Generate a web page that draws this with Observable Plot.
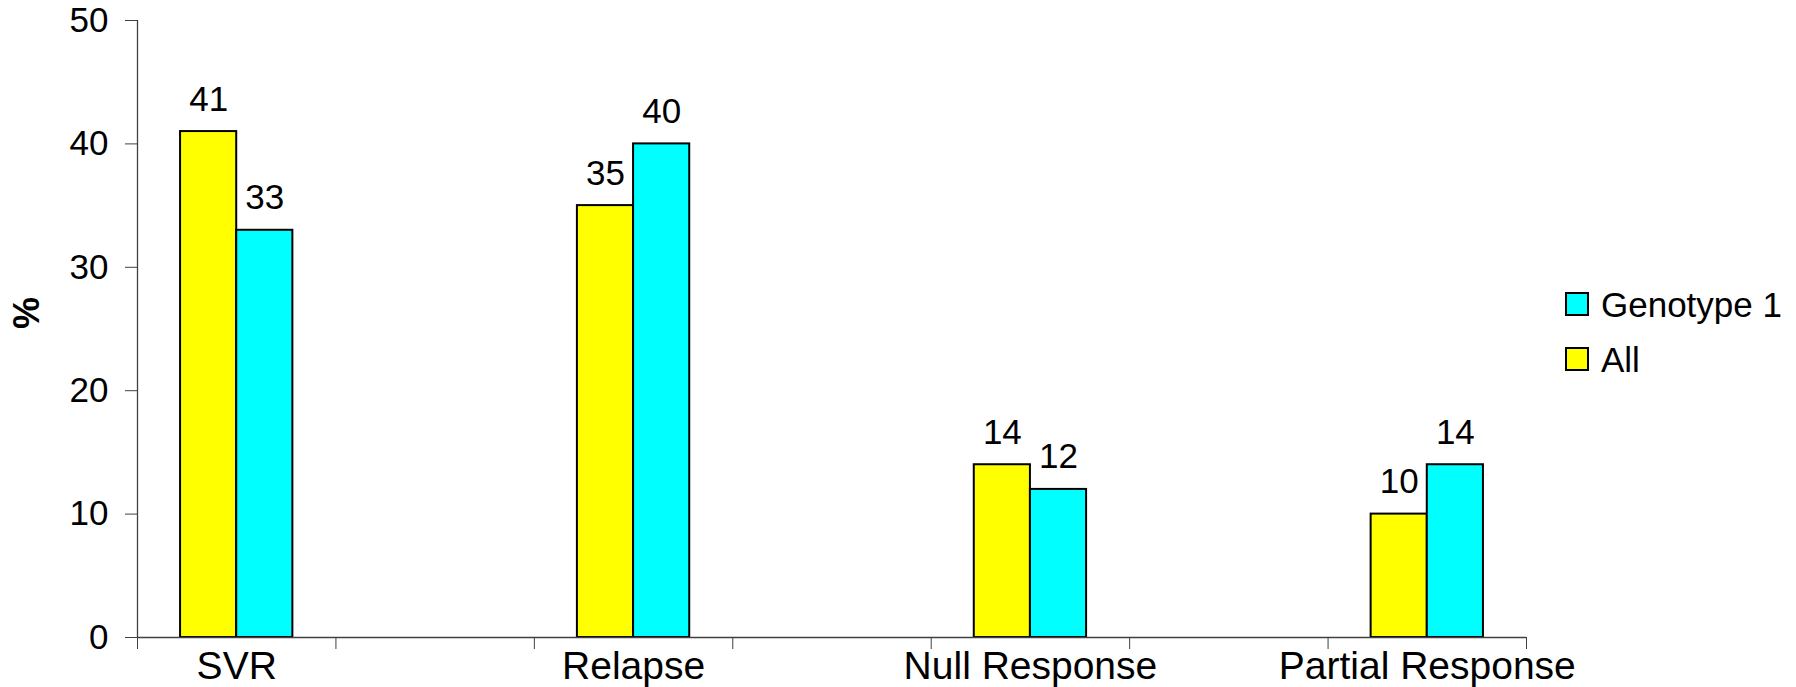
<!DOCTYPE html>
<html>
<head>
<meta charset="utf-8">
<script src="https://cdn.jsdelivr.net/npm/d3@7"></script>
<script src="https://cdn.jsdelivr.net/npm/@observablehq/plot@0.6"></script>
<style>
  html, body { margin: 0; padding: 0; background: #fff; }
  #chart { position: relative; width: 1796px; height: 687px; font-family: "Liberation Sans", Arial, sans-serif; }
  #chart svg { display: block; }
  .legend { position: absolute; left: 1565px; top: 293px; }
  .legend .item { display: flex; align-items: center; height: 22px; margin-bottom: 33px; }
  .legend .swatch { width: 20px; height: 20px; border: 2px solid #000; box-sizing: content-box; }
  .legend .label { margin-left: 12px; font-size: 35px; line-height: 1; color: #000; white-space: nowrap; }
</style>
</head>
<body>
<div id="chart"></div>
<script>
// Response outcomes (%), by patient group
const categories = ["SVR", "Relapse", "Null Response", "Partial Response"];
const allValues = [41, 35, 14, 10];
const genotypeValues = [33, 40, 12, 14];
const seriesNames = ["All", "Genotype 1"];
const seriesColors = ["#ffff00", "#00ffff"];
const yTicks = [0, 10, 20, 30, 40, 50];

// Each category sits in every other slot of a 7-slot axis, with empty slots between.
const slotCount = categories.length * 2 - 1;
const slotOf = (i) => i * 2;
const barWidth = 0.283;

const bars = [];
categories.forEach((c, i) => {
  const center = slotOf(i) + 0.5;
  bars.push({category: c, series: seriesNames[0], value: allValues[i], x1: center - barWidth, x2: center});
  bars.push({category: c, series: seriesNames[1], value: genotypeValues[i], x1: center, x2: center + barWidth});
});

const axisStroke = "#404040";

const chart = Plot.plot({
  width: 1796,
  height: 687,
  marginLeft: 137,
  marginRight: 270,
  marginTop: 20,
  marginBottom: 50,
  style: {fontFamily: "'Liberation Sans', Arial, sans-serif", background: "white", overflow: "visible"},
  x: {domain: [0, slotCount], axis: null},
  y: {domain: [0, 50], axis: null},
  color: {domain: seriesNames, range: seriesColors},
  marks: [
    Plot.axisY({ticks: yTicks, tickSize: 12, tickPadding: 17, fontSize: 35, label: null, stroke: axisStroke, fill: "black"}),
    Plot.ruleX([0], {stroke: axisStroke, strokeWidth: 1.3}),
    Plot.axisX({ticks: d3.range(0, slotCount + 1), tickSize: 12, tickFormat: () => "", label: null, stroke: axisStroke}),
    Plot.axisX({
      ticks: categories.map((c, i) => slotOf(i) + 0.5),
      tickSize: 0,
      tickPadding: 14,
      tickFormat: (d) => categories[(d - 0.5) / 2],
      fontSize: 39,
      label: null,
      fill: "black"
    }),
    Plot.rectY(bars, {x1: "x1", x2: "x2", y: "value", fill: "series", stroke: "black", strokeWidth: 2}),
    Plot.ruleY([0], {stroke: axisStroke, strokeWidth: 1.3}),
    Plot.text(bars, {
      x: (d) => (d.x1 + d.x2) / 2,
      y: "value",
      text: (d) => String(d.value),
      dy: -21,
      lineAnchor: "bottom",
      fontSize: 35,
      fill: "black"
    }),
    Plot.text(["%"], {frameAnchor: "left", dx: -110, rotate: -90, fontSize: 36, fontWeight: "bold", fill: "black"})
  ]
});

const root = document.getElementById("chart");
root.appendChild(chart);

// Legend, listed with the last series first
const legend = document.createElement("div");
legend.className = "legend";
seriesNames.slice().reverse().forEach((name) => {
  const item = document.createElement("div");
  item.className = "item";
  const sw = document.createElement("div");
  sw.className = "swatch";
  sw.style.background = seriesColors[seriesNames.indexOf(name)];
  const lab = document.createElement("div");
  lab.className = "label";
  lab.textContent = name;
  item.appendChild(sw);
  item.appendChild(lab);
  legend.appendChild(item);
});
root.appendChild(legend);
</script>
</body>
</html>
